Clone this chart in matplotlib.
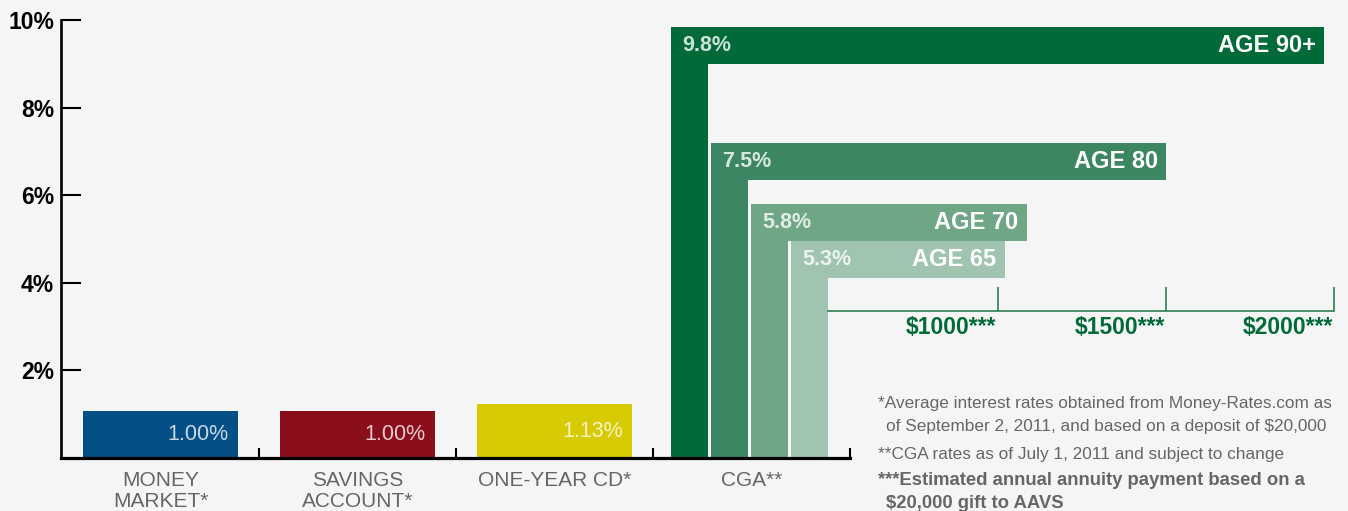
import numpy as np
import matplotlib.pyplot as plt

plt.rcParams['font.family'] = ['Liberation Sans', 'DejaVu Sans']

# ---- data ----
categories = ['MONEY\nMARKET*', 'SAVINGS\nACCOUNT*', 'ONE-YEAR CD*', 'CGA**']
bank_labels = ['1.00%', '1.00%', '1.13%']
bank_heights = [1.07, 1.07, 1.23]
bank_colors = ['#034f86', '#8b0e1c', '#d8ca00']

cga_labels = ['9.8%', '7.5%', '5.8%', '5.3%']
cga_ages = ['AGE 90+', 'AGE 80', 'AGE 70', 'AGE 65']
cga_tops = [9.84, 7.19, 5.80, 4.95]
cga_payments = [1970, 1500, 1085, 1020]
cga_colors = ['#006a38', '#3c8762', '#6fa686', '#a0c4b0']

pay_ticks = [1000, 1500, 2000]
pay_labels = ['$1000***', '$1500***', '$2000***']
y_ticks = [2, 4, 6, 8, 10]

footnotes = [
    ('*Average interest rates obtained from Money-Rates.com as', 'normal', 0),
    ('of September 2, 2011, and based on a deposit of $20,000', 'normal', 1),
    ('**CGA rates as of July 1, 2011 and subject to change', 'normal', 0),
    ('***Estimated annual annuity payment based on a', 'bold', 0),
    ('$20,000 gift to AAVS', 'bold', 1),
]

bg = '#f5f5f5'
gray = '#666666'
green = '#006a38'

W, H = 1348, 511
fig = plt.figure(figsize=(W / 100, H / 100), dpi=100, facecolor=bg)
ax = fig.add_axes([61 / W, 53 / H, 1279 / W, 458 / H])
ax.set_facecolor(bg)
ax.set_xlim(-0.505, 5.987)
ax.set_ylim(0, 10.46)

# second x scale for annual payment ($)
ax2 = ax.twiny()
ax2.set_xlim(-1789, 2018)
for s in ax2.spines.values():
    s.set_visible(False)
ax2.set_xticks([])

def to_pay(x):
    x0, x1 = ax.get_xlim()
    p0, p1 = ax2.get_xlim()
    return p0 + (x - x0) / (x1 - x0) * (p1 - p0)

# bank products
xb = np.arange(len(bank_heights))
bw = 0.79
ax.bar(xb, bank_heights, width=bw, color=bank_colors, zorder=2)
for x, h, lab in zip(xb, bank_heights, bank_labels):
    ax.annotate(lab, (x + bw / 2, h / 2), xytext=(-7, 0), textcoords='offset points',
                ha='right', va='center', fontsize=15.5, color='white', alpha=0.78)

# CGA nested bars
band = 0.85
sub = 0.203
sw = 0.188
g0 = 2.591
for i, (top, pay, col, rl, al) in enumerate(zip(cga_tops, cga_payments, cga_colors,
                                                 cga_labels, cga_ages)):
    left = g0 + i * sub
    ax.bar(left, top, width=sw, align='edge', color=col, zorder=2)
    pl = to_pay(left)
    ax2.barh(top - band / 2, pay - pl, left=pl, height=band, color=col, zorder=2)
    ax2.annotate(rl, (pl, top - band / 2), xytext=(8, 0), textcoords='offset points',
                 ha='left', va='center', fontsize=15.5, color='white', alpha=0.8,
                 fontweight='bold', zorder=3)
    ax2.annotate(al, (pay, top - band / 2), xytext=(-6, 0), textcoords='offset points',
                 ha='right', va='center', fontsize=17, color='white',
                 fontweight='bold', zorder=3)

# payment scale
y_line, y_tick = 3.36, 3.90
p_start = to_pay(g0 + 3 * sub + sw)
ax2.plot([p_start, pay_ticks[-1]], [y_line, y_line], color='#2f7d52', lw=1.2, zorder=2)
ax2.vlines(pay_ticks, y_line, y_tick, color='#2f7d52', lw=1.2, zorder=2)
for p, lab in zip(pay_ticks, pay_labels):
    ax2.annotate(lab, (p, y_line), xytext=(-1, -4), textcoords='offset points',
                 ha='right', va='top', fontsize=16.5, color=green, fontweight='bold')

# axes styling
for s in ['top', 'right']:
    ax.spines[s].set_visible(False)
ax.spines['left'].set_bounds(0, 10)
ax.spines['left'].set_linewidth(1.9)
ax.spines['bottom'].set_bounds(-0.505, 3.5)
ax.spines['bottom'].set_linewidth(2.3)
ax.spines['bottom'].set_zorder(4)

ax.set_yticks(y_ticks)
ax.set_yticklabels([f'{t}%' for t in y_ticks], fontsize=16.5, fontweight='bold')
ax.tick_params(axis='y', direction='in', length=14.5, width=1.5, pad=5)

ax.set_xticks(xb.tolist() + [3])
ax.set_xticklabels(categories, fontsize=15, color=gray, linespacing=1.15)
ax.tick_params(axis='x', which='major', length=0, pad=9)
ax.set_xticks([0.5, 1.5, 2.5, 3.5], minor=True)
ax.tick_params(axis='x', which='minor', direction='in', length=7, width=1.5)

# footnotes
baselines = [408, 431, 459, 485, 508]
for (txt, wt, ind), yb in zip(footnotes, baselines):
    fig.text((878 + 8 * ind) / W, 1 - yb / H, txt, fontsize=12.4 if wt == 'normal' else 13.3,
             color=gray, fontweight=wt, ha='left', va='baseline')

fig.savefig('out.png', dpi=100, facecolor=bg)
